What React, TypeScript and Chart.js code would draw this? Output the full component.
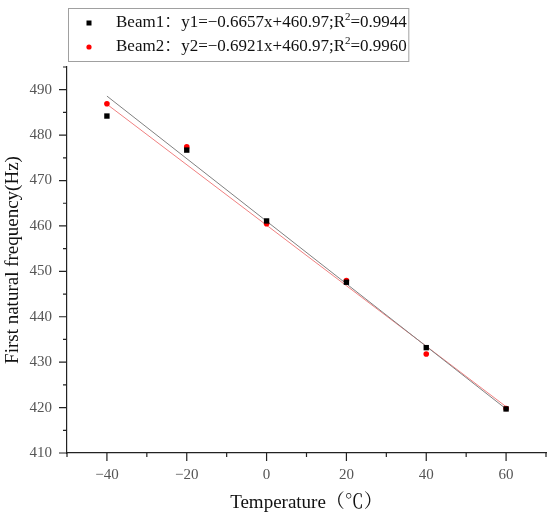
import { useEffect, useRef } from "react"
import { Chart, registerables } from "chart.js"

Chart.register(...registerables)

// measured temperatures (°C) and first natural frequencies (Hz)
const temps = [-40, -20, 0, 20, 40, 60]
const beam1 = [484.2, 476.7, 461.1, 447.6, 433.2, 419.7]
const beam2 = [486.9, 477.4, 460.5, 448.0, 431.8, 419.8]

// fitted line ends
const fitX = [-40, 60]
const fit1 = [488.6, 419.7]
const fit2 = [486.8, 420.2]

const seriesNames = ["Beam1", "Beam2"]
const legendText = [
  ["Beam1：y1=−0.6657x+460.97;R", "2", "=0.9944"],
  ["Beam2：y2=−0.6921x+460.97;R", "2", "=0.9960"],
]
const seriesColors = ["#000000", "#ff0000"]
const fitColors = ["#808080", "#f08080"]

const serif = "'Liberation Serif', 'Times New Roman', 'Noto Serif CJK SC', 'Noto Sans CJK SC', serif"

const toPoints = (xs: number[], ys: number[]) => xs.map((x, i) => ({ x, y: ys[i] }))
const fmt = (v: number) => (v < 0 ? "−" + Math.abs(v) : String(v))

// minor/major tick marks and the boxed legend with a superscript
const decorations = {
  id: "decorations",
  afterDraw(chart: any) {
    const { ctx, scales } = chart
    const x = scales.x
    const y = scales.y
    ctx.save()
    ctx.strokeStyle = "#222"
    ctx.lineWidth = 1.2
    ctx.beginPath()
    for (let v = x.min; v <= x.max; v += 10) {
      const px = x.getPixelForValue(v)
      const len = v % 20 === 0 ? 8 : 4
      ctx.moveTo(px, x.top)
      ctx.lineTo(px, x.top + len)
    }
    for (let v = y.min; v <= y.max; v += 5) {
      const py = y.getPixelForValue(v)
      const len = v % 10 === 0 ? 8 : 4
      ctx.moveTo(y.right, py)
      ctx.lineTo(y.right - len, py)
    }
    ctx.stroke()

    // legend box
    const boxL = 68.5
    const boxT = 8.5
    const rowH = 24
    const textX = 116
    let maxW = 0
    const widths = legendText.map(([a, s, b]) => {
      ctx.font = `17px ${serif}`
      const wa = ctx.measureText(a).width
      const wb = ctx.measureText(b).width
      ctx.font = `11px ${serif}`
      const ws = ctx.measureText(s).width
      maxW = Math.max(maxW, wa + ws + wb)
      return [wa, ws]
    })
    const boxW = textX + maxW + 2 - boxL
    ctx.strokeStyle = "#a0a0a0"
    ctx.lineWidth = 1
    ctx.strokeRect(boxL, boxT, boxW, 53)

    legendText.forEach(([a, s, b], i) => {
      const cy = boxT + 14.5 + i * rowH
      ctx.fillStyle = seriesColors[i]
      if (i === 0) {
        ctx.fillRect(86.5, cy - 2.5, 5, 5)
      } else {
        ctx.beginPath()
        ctx.arc(89, cy, 2.6, 0, Math.PI * 2)
        ctx.fill()
      }
      ctx.fillStyle = "#111"
      ctx.textBaseline = "middle"
      ctx.textAlign = "left"
      ctx.font = `17px ${serif}`
      ctx.fillText(a, textX, cy)
      ctx.font = `11px ${serif}`
      ctx.fillText(s, textX + widths[i][0], cy - 6)
      ctx.font = `17px ${serif}`
      ctx.fillText(b, textX + widths[i][0] + widths[i][1], cy)
    })
    ctx.restore()
  },
}

function FrequencyChart() {
  const chartRef = useRef<HTMLCanvasElement>(null)
  const chartInstance = useRef<Chart | null>(null)

  useEffect(() => {
    if (!chartRef.current) return
    if (chartInstance.current) chartInstance.current.destroy()
    const ctx = chartRef.current.getContext("2d")
    if (!ctx) return

    chartInstance.current = new Chart(ctx, {
      type: "scatter",
      data: {
        datasets: [
          {
            label: seriesNames[0],
            data: toPoints(temps, beam1),
            pointStyle: "rect",
            pointRadius: 3.8,
            backgroundColor: seriesColors[0],
            borderColor: seriesColors[0],
            borderWidth: 0,
            order: 0,
          },
          {
            label: seriesNames[1],
            data: toPoints(temps, beam2),
            pointStyle: "circle",
            pointRadius: 2.8,
            backgroundColor: seriesColors[1],
            borderColor: seriesColors[1],
            borderWidth: 0,
            order: 1,
          },
          {
            type: "line",
            label: seriesNames[0] + " fit",
            data: toPoints(fitX, fit1),
            borderColor: fitColors[0],
            borderWidth: 1,
            pointRadius: 0,
            fill: false,
            order: 2,
          },
          {
            type: "line",
            label: seriesNames[1] + " fit",
            data: toPoints(fitX, fit2),
            borderColor: fitColors[1],
            borderWidth: 1,
            pointRadius: 0,
            fill: false,
            order: 3,
          },
        ] as any,
      },
      options: {
        responsive: false,
        animation: false,
        layout: { padding: { top: 67, right: 4, left: 0, bottom: 0 } },
        plugins: {
          legend: { display: false },
          tooltip: { enabled: false },
        },
        scales: {
          x: {
            type: "linear",
            min: -50,
            max: 70,
            grid: { display: false, drawTicks: false },
            border: { display: true, color: "#222", width: 1.2 },
            ticks: {
              stepSize: 10,
              padding: 13,
              color: "#555",
              font: { family: serif, size: 15 },
              maxRotation: 0,
              autoSkip: false,
              callback: (v: any) => (Number(v) % 20 === 0 ? fmt(Number(v)) : ""),
            },
            title: {
              display: true,
              text: "Temperature（℃）",
              color: "#111",
              font: { family: serif, size: 19 },
              padding: { top: 6, bottom: 6 },
            },
            afterFit: (scale: any) => {
              scale.height = 67
              scale.paddingLeft = 0
              scale.paddingRight = 0
            },
          },
          y: {
            type: "linear",
            min: 410,
            max: 495,
            grid: { display: false, drawTicks: false },
            border: { display: true, color: "#222", width: 1.2 },
            ticks: {
              stepSize: 10,
              includeBounds: false,
              padding: 15,
              color: "#555",
              font: { family: serif, size: 15 },
              callback: (v: any) => fmt(Number(v)),
            },
            title: {
              display: true,
              text: "First natural frequency(Hz)",
              color: "#111",
              font: { family: serif, size: 19 },
              padding: { top: 2, bottom: 2 },
            },
            afterFit: (scale: any) => {
              scale.width = 67
              scale.paddingTop = 0
              scale.paddingBottom = 0
            },
          },
        },
      } as any,
      plugins: [decorations],
    })

    return () => {
      if (chartInstance.current) {
        chartInstance.current.destroy()
        chartInstance.current = null
      }
    }
  }, [])

  return <canvas ref={chartRef} width={550} height={520} />
}

export default function App() {
  return (
    <div style={{ position: "fixed", left: 0, top: 0, width: 550, height: 520, background: "#fff" }}>
      <FrequencyChart />
    </div>
  )
}
